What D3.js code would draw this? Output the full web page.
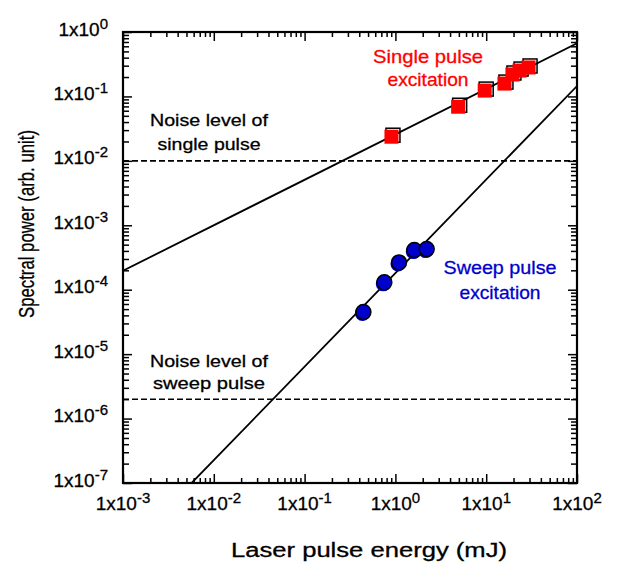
<!DOCTYPE html>
<html>
<head>
<meta charset="utf-8">
<script src="https://cdn.jsdelivr.net/npm/d3@7"></script>
<style>
  body { margin: 0; background: #fff; }
  text { font-family: "Liberation Sans", Arial, sans-serif; }
</style>
</head>
<body>
<svg id="chart" width="617" height="563"></svg>
<script>
// values
const singleEnergy = [0.94, 5.1, 10, 16.5, 20.2, 24.2, 30.4];
const singlePower = [0.025, 0.073, 0.13, 0.167, 0.231, 0.266, 0.297];
const sweepEnergy = [0.444, 0.755, 1.096, 1.615, 2.21];
const sweepPower = [4.5e-5, 1.3e-4, 2.65e-4, 4.12e-4, 4.27e-4];
// fitted power laws, endpoints only
const singleFitEnergy = [1e-3, 100];
const singleFitPower = [1.97e-4, 0.667];
const sweepFitEnergy = [5.7e-3, 100];
const sweepFitPower = [1e-7, 0.145];
const noiseLevels = [1e-2, 2e-6];
const xExponents = [-3, -2, -1, 0, 1, 2];
const yExponents = [0, -1, -2, -3, -4, -5, -6, -7];

const svg = d3.select('#chart');
const margin = { top: 32, right: 40, bottom: 80, left: 123 };
const width = 617 - margin.left - margin.right;   // 454
const height = 563 - margin.top - margin.bottom;  // 451

const x = d3.scaleLog().domain([1e-3, 1e2]).range([0, width]);
const y = d3.scaleLog().domain([1e-7, 1e0]).range([height, 0]);

const g = svg.append('g').attr('transform', `translate(${margin.left},${margin.top})`);

// minor + major tick values
const minor = (lo, hi) => {
    const out = [];
    for (let e = lo; e < hi; e++) for (let k = 2; k <= 9; k++) out.push(k * Math.pow(10, e));
    return out;
};
const xMajor = xExponents.map(e => Math.pow(10, e));
const yMajor = yExponents.map(e => Math.pow(10, e));
const xMinor = minor(-3, 2);
const yMinor = minor(-7, 0);

function tickAxis(axisFn, scale, vals, size, transform) {
    const a = g.append('g').attr('transform', transform)
        .call(axisFn(scale).tickValues(vals).tickSize(-size).tickFormat(''));
    a.select('.domain').remove();
    a.selectAll('line').attr('stroke', '#000').attr('stroke-width', 1.5);
}
tickAxis(d3.axisBottom, x, xMajor, 9, `translate(0,${height})`);
tickAxis(d3.axisBottom, x, xMinor, 5, `translate(0,${height})`);
tickAxis(d3.axisTop, x, xMajor, 9, 'translate(0,0)');
tickAxis(d3.axisTop, x, xMinor, 5, 'translate(0,0)');
tickAxis(d3.axisLeft, y, yMajor, 9, 'translate(0,0)');
tickAxis(d3.axisLeft, y, yMinor, 6, 'translate(0,0)');
tickAxis(d3.axisRight, y, yMajor, 9, `translate(${width},0)`);
tickAxis(d3.axisRight, y, yMinor, 6, `translate(${width},0)`);

g.append('rect')
    .attr('width', width).attr('height', height)
    .attr('fill', 'none').attr('stroke', '#000').attr('stroke-width', 2.2);

// tick labels
const xl = g.append('g').selectAll('text').data(xExponents).enter().append('text')
    .attr('x', d => x(Math.pow(10, d)))
    .attr('y', height + 27)
    .attr('text-anchor', 'middle')
    .attr('font-size', 19)
    .attr('stroke', '#000').attr('stroke-width', 0.3);
xl.append('tspan').text('1x10');
xl.append('tspan').attr('dy', -7).attr('font-size', 15).text(d => d);

const yl = g.append('g').selectAll('text').data(yExponents).enter().append('text')
    .attr('x', -15)
    .attr('y', d => y(Math.pow(10, d)) + 3.5)
    .attr('text-anchor', 'end')
    .attr('font-size', 19)
    .attr('stroke', '#000').attr('stroke-width', 0.3);
yl.append('tspan').text('1x10');
yl.append('tspan').attr('dy', -7).attr('font-size', 15).text(d => d);

// noise levels
g.selectAll('.noise').data(noiseLevels).enter().append('line')
    .attr('class', 'noise')
    .attr('x1', 0).attr('x2', width)
    .attr('y1', d => y(d)).attr('y2', d => y(d))
    .attr('stroke', '#000').attr('stroke-width', 1.6)
    .attr('stroke-dasharray', '6,3');

// fit lines
const line = d3.line().x(d => x(d[0])).y(d => y(d[1]));
g.append('clipPath').attr('id', 'clip').append('rect').attr('width', width).attr('height', height);
g.append('path').datum(d3.zip(singleFitEnergy, singleFitPower))
    .attr('d', line).attr('fill', 'none').attr('stroke', '#000').attr('stroke-width', 1.8)
    .attr('clip-path', 'url(#clip)');
g.append('path').datum(d3.zip(sweepFitEnergy, sweepFitPower))
    .attr('d', line).attr('fill', 'none').attr('stroke', '#000').attr('stroke-width', 1.8)
    .attr('clip-path', 'url(#clip)');

// single pulse squares (black outline with slightly offset red fill)
const sq = 14;
const single = d3.zip(singleEnergy, singlePower);
g.selectAll('.sqo').data(single).enter().append('rect')
    .attr('x', d => x(d[0]) - sq / 2).attr('y', d => y(d[1]) - sq / 2)
    .attr('width', sq).attr('height', sq)
    .attr('fill', 'none').attr('stroke', '#000').attr('stroke-width', 1.5);
g.selectAll('.sqf').data(single).enter().append('rect')
    .attr('x', d => x(d[0]) - sq / 2 - 1.5).attr('y', d => y(d[1]) - sq / 2 + 1.5)
    .attr('width', sq).attr('height', sq)
    .attr('fill', '#ff0000');

// sweep pulse circles
const sweep = d3.zip(sweepEnergy, sweepPower);
g.selectAll('.cs').data(sweep).enter().append('circle')
    .attr('cx', d => x(d[0]) - 1).attr('cy', d => y(d[1]) + 1.5).attr('r', 7.5)
    .attr('fill', '#0000cc');
g.selectAll('.cf').data(sweep).enter().append('circle')
    .attr('cx', d => x(d[0])).attr('cy', d => y(d[1])).attr('r', 7.5)
    .attr('fill', '#0000cc').attr('stroke', '#000').attr('stroke-width', 1.5);

// annotations
function note(lines, cx, baselines, size, color, lengths) {
    lines.forEach((t, i) => {
        svg.append('text')
            .attr('x', cx).attr('y', baselines[i])
            .attr('text-anchor', 'middle')
            .attr('font-size', size).attr('fill', color)
            .attr('stroke', color).attr('stroke-width', 0.3)
            .attr('textLength', lengths[i]).attr('lengthAdjust', 'spacingAndGlyphs')
            .text(t);
    });
}
note(['Noise level of', 'single pulse'], 209, [126, 150], 17, '#000', [118, 103]);
note(['Noise level of', 'sweep pulse'], 209, [367, 389], 17, '#000', [118, 112]);
note(['Single pulse', 'excitation'], 428, [63, 86], 19, '#ff0000', [110, 81]);
note(['Sweep pulse', 'excitation'], 500, [274, 299], 19, '#0000cc', [113, 81]);

// axis titles
svg.append('text')
    .attr('x', 369).attr('y', 557)
    .attr('text-anchor', 'middle').attr('font-size', 20)
    .attr('stroke', '#000').attr('stroke-width', 0.3)
    .attr('textLength', 276).attr('lengthAdjust', 'spacingAndGlyphs')
    .text('Laser pulse energy (mJ)');
svg.append('text')
    .attr('transform', 'translate(34,224) rotate(-90)')
    .attr('text-anchor', 'middle').attr('font-size', 22)
    .attr('stroke', '#000').attr('stroke-width', 0.3)
    .attr('textLength', 188).attr('lengthAdjust', 'spacingAndGlyphs')
    .text('Spectral power (arb. unit)');
</script>
</body>
</html>
